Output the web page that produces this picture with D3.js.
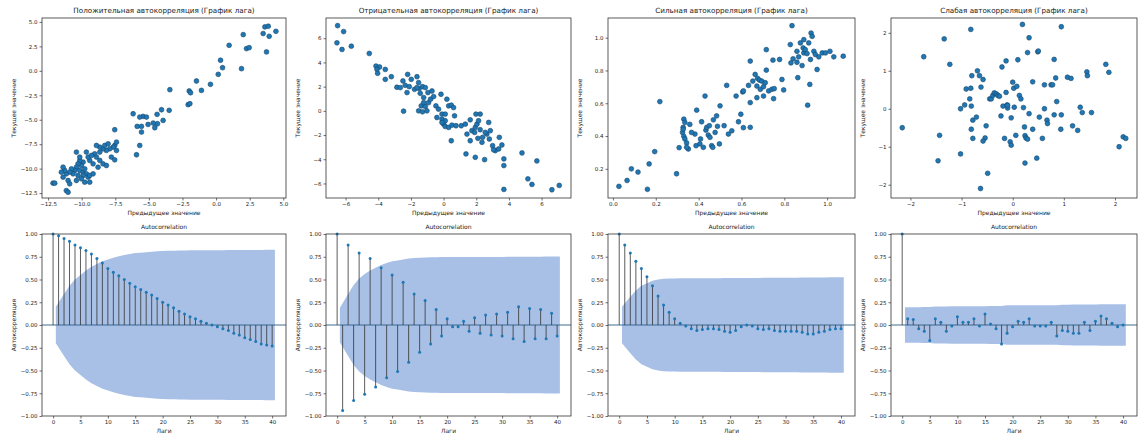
<!DOCTYPE html>
<html><head><meta charset="utf-8">
<script src="https://cdn.jsdelivr.net/npm/d3@7"></script>
<style>body{margin:0;background:#fff} svg text{font-family:"DejaVu Sans",sans-serif;fill:#222}</style>
</head><body><svg id="c" width="1139" height="437"></svg>
<script>
// ---------- DATA ----------
const scatterTitles = ["Положительная автокорреляция (График лага)","Отрицательная автокорреляция (График лага)","Сильная автокорреляция (График лага)","Слабая автокорреляция (График лага)"];
const scatterXLabel = "Предыдущее значение";
const scatterYLabel = "Текущее значение";
const acfTitle = "Autocorrelation";
const acfXLabel = "Лаги";
const acfYLabel = "Автокорреляция";

// Positive autocorrelation lag plot
const posX = [3.63,3.88,3.50,3.95,4.45,3.75,2.26,2.46,2.02,0.97,0.33,0.48,0.16,1.89,-0.42,-1.46,-1.09,-2.00,-1.90,-3.44,-2.08,-1.95,-3.49,-4.06,-3.94,-4.39,-4.36,-4.68,-4.56,-5.06,-5.43,-5.18,-5.68,-5.55,-5.87,-6.17,-5.55,-5.68,-5.92,-7.54,
 -7.54,-7.66,-7.91,-7.41,-7.79,-7.54,-8.16,-8.41,-8.65,-8.90,-8.65,-9.03,-8.90,-8.65,-8.41,-8.16,-8.78,-9.15,-9.40,-9.52,-9.27,-9.65,-9.89,-10.02,-10.14,-10.27,-10.39,-10.51,-10.14,-9.89,-9.77,-9.65,-9.89,-10.27,-10.64,-10.76,-10.89,-11.14,-11.26,-11.38,-11.51,-11.38,-11.01,-10.89,-10.39,-10.02,-9.40,-9.52,-9.77,-11.14,-11.01,-12.13,-12.00,-9.40,-9.15,-10.39,-10.14,-8.28,-8.03,-7.41];
const posY = [4.49,4.56,3.81,3.53,4.04,1.93,2.27,2.37,3.70,2.61,1.08,0.32,-0.36,0.22,-1.38,-1.04,-2.00,-2.06,-2.24,-1.93,-3.46,-3.36,-4.04,-3.98,-5.07,-4.45,-5.41,-5.34,-5.82,-5.48,-4.66,-4.73,-4.73,-5.68,-5.68,-4.39,-6.26,-7.63,-8.58,-6.02,
 -7.63,-7.80,-7.97,-8.14,-8.82,-9.10,-8.14,-7.97,-7.80,-7.63,-8.31,-8.48,-8.82,-9.16,-9.51,-9.68,-9.85,-9.51,-9.16,-8.82,-8.65,-8.31,-9.33,-9.68,-9.16,-9.51,-9.85,-10.19,-10.19,-10.36,-10.02,-10.53,-10.70,-10.70,-10.53,-10.02,-10.36,-10.53,-10.19,-9.85,-10.36,-10.87,-11.21,-11.55,-11.21,-11.04,-11.38,-10.87,-11.38,-12.24,-12.41,-11.48,-11.48,-10.70,-10.53,-8.31,-8.82,-7.63,-7.46,-7.29];

// Negative autocorrelation lag plot
const negX = [-6.49,-6.12,-6.53,-6.22,-5.65,-4.55,-4.14,-3.92,-4.08,-3.57,-4.04,-3.57,-3.20,-2.86,-2.49,-2.20,-2.35,-2.10,-1.98,-1.63,-1.53,-1.78,-1.49,-1.43,-1.29,-1.12,-0.96,-0.71,-1.22,-1.37,-1.53,-1.29,-1.12,-0.92,-0.80,-0.61,-0.47,-0.31,-0.16,0.20,0.31,0.47,0.61,0.67,-0.10,-0.10,0.00,0.10,0.31,0.51,0.76,1.08,1.33,1.63,0.47,1.43,1.63,1.73,1.94,2.04,2.14,2.24,1.98,1.90,2.10,2.39,2.76,2.65,2.80,3.00,3.16,3.41,3.57,3.69,3.69,1.37,1.94,2.51,4.80,5.71,5.16,5.41,3.69,6.63,7.08,-2.45,0.10,-0.41,0.10,2.24,2.55,2.86,3.06,3.37,-1.22,-1.02,-1.63,-2.65,-2.24,-0.10,2.35];
const negY = [7.04,6.55,5.62,5.07,5.34,4.74,3.70,3.62,3.42,3.42,3.10,2.60,2.82,1.95,2.47,3.01,2.11,2.00,2.60,2.82,2.33,1.78,1.84,1.45,2.00,1.92,1.51,1.64,1.10,0.41,0.00,-0.08,0.36,0.68,0.96,1.18,0.41,0.14,1.37,0.96,0.41,0.47,0.27,-0.41,-0.27,-0.68,-1.10,-1.29,-1.37,-1.18,-1.23,-1.23,-1.10,-0.74,-2.47,-1.92,-2.47,-1.64,-1.37,-1.10,-0.82,-0.27,-0.27,-1.78,-2.27,-2.19,-0.96,-1.92,-2.33,-2.88,-3.29,-2.19,-2.82,-3.97,-4.52,-3.56,-3.84,-4.03,-3.48,-4.14,-5.62,-6.08,-6.49,-6.52,-6.16,-0.03,-0.27,-0.55,-0.82,-1.56,-1.78,-1.64,-3.21,-3.15,0.68,0.00,1.92,1.92,1.51,-0.96,-2.60];

// Strong autocorrelation lag plot
const strongX = [0.028,0.066,0.086,0.117,0.161,0.169,0.195,0.219,0.297,0.309,0.328,0.331,0.336,0.325,0.331,0.336,0.344,0.352,0.359,0.383,0.388,0.391,0.414,0.406,0.422,0.430,0.434,0.438,0.445,0.450,0.453,0.461,0.466,0.469,0.484,0.488,0.497,0.500,0.519,0.531,0.555,0.575,0.586,0.597,0.606,0.609,0.633,0.641,0.641,0.641,0.653,0.664,0.672,0.675,0.684,0.688,0.695,0.703,0.703,0.711,0.716,0.716,0.727,0.742,0.747,0.750,0.753,0.778,0.789,0.797,0.828,0.831,0.841,0.859,0.863,0.867,0.875,0.883,0.888,0.891,0.898,0.909,0.914,0.919,0.922,0.925,0.930,0.938,0.945,0.953,0.961,0.977,0.992,1.013,1.031,1.075,0.836,0.906,0.891,0.859,0.672,0.609,0.539,0.344,0.367,0.328,0.409,0.477];
const strongY = [0.093,0.129,0.200,0.180,0.075,0.230,0.305,0.610,0.170,0.329,0.453,0.503,0.483,0.422,0.398,0.382,0.358,0.321,0.471,0.412,0.341,0.558,0.487,0.352,0.331,0.644,0.436,0.453,0.406,0.463,0.392,0.341,0.331,0.499,0.523,0.459,0.352,0.584,0.463,0.709,0.432,0.644,0.487,0.533,0.669,0.675,0.709,0.604,0.857,0.453,0.735,0.776,0.705,0.752,0.741,0.685,0.735,0.701,0.644,0.725,0.927,0.802,0.675,0.685,0.863,0.628,0.689,0.867,0.745,0.681,0.958,0.846,0.871,0.917,0.756,0.883,0.968,0.830,0.937,0.907,0.927,0.588,0.968,0.715,0.867,1.028,1.008,0.917,0.897,0.806,0.883,0.907,0.907,0.917,0.883,0.887,1.073,0.903,0.988,0.850,0.634,0.451,0.412,0.331,0.422,0.442,0.382,0.422];

// Weak autocorrelation lag plot
const weakX = [-2.16,-1.74,-1.43,-1.46,-1.34,-1.23,-1.02,-1.02,-0.94,-0.91,-0.82,-0.84,-0.81,-0.80,-0.78,-0.81,-0.78,-0.71,-0.69,-0.65,-0.62,-0.58,-0.82,-0.52,-0.54,-0.58,-0.49,-0.63,-0.45,-0.42,-0.39,-0.36,-0.32,-0.29,-0.26,-0.21,-0.23,-0.19,-0.16,-0.13,-0.13,-0.11,-0.10,-0.05,-0.03,-0.03,0.00,0.02,0.03,0.06,0.08,0.10,0.13,0.16,0.19,0.21,0.23,0.24,0.24,0.26,0.29,0.29,0.32,0.32,0.39,0.39,0.47,0.49,0.50,0.52,0.58,0.62,0.62,0.67,0.68,0.75,0.78,0.81,0.81,0.84,0.86,0.94,0.95,0.95,1.07,1.14,1.17,1.27,1.32,1.36,1.45,1.46,1.54,1.82,1.88,2.08,2.16,2.21,-0.10];
const weakY = [-0.50,1.37,-0.70,-1.37,1.84,1.17,-1.19,0.00,0.10,0.52,0.54,0.26,0.07,0.87,-0.78,-0.54,-0.30,-0.22,1.00,0.87,0.57,0.77,2.09,-0.45,-0.77,-0.85,-1.70,-2.10,0.26,0.26,0.35,0.42,0.39,0.35,0.33,1.10,-0.19,0.07,-0.78,1.26,0.43,0.10,0.02,-0.87,-0.96,-0.24,0.70,0.54,0.04,-0.70,0.59,1.29,0.35,0.26,2.22,0.03,-0.48,-1.43,-0.71,-0.77,1.48,-0.80,-0.13,1.87,-0.54,0.71,-1.30,1.50,1.52,-0.22,-0.78,0.00,0.63,-0.30,-0.39,0.63,0.63,1.30,-0.16,0.81,0.19,-0.54,-0.16,2.16,0.83,0.80,-0.45,-0.57,0.04,-0.10,0.97,0.87,-0.10,1.17,0.96,-1.00,-0.74,-0.78,0.09];

// Scatter axis ranges and ticks
const posXDomain = [-12.95, 5.2],  posYDomain = [-13.0, 5.4],  posTicks = [-12.5,-10,-7.5,-5,-2.5,0,2.5,5];
const negXDomain = [-7.2, 7.8],    negYDomain = [-7.2, 7.67],  negTicks = [-6,-4,-2,0,2,4,6];
const strongXDomain = [-0.023, 1.13], strongYDomain = [0.022, 1.12];
const strongXTicks = [0,0.2,0.4,0.6,0.8,1.0], strongYTicks = [0.2,0.4,0.6,0.8,1.0];
const weakXDomain = [-2.38, 2.43], weakYDomain = [-2.35, 2.39], weakTicks = [-2,-1,0,1,2];

// ACF values, lags 0..40
const lags = d3.range(0, 41);
const acfPos = [1.00,0.98,0.95,0.92,0.88,0.85,0.82,0.78,0.73,0.68,0.62,0.58,0.54,0.50,0.46,0.42,0.39,0.36,0.33,0.29,0.25,0.22,0.19,0.15,0.12,0.09,0.07,0.04,0.02,0.00,-0.02,-0.04,-0.06,-0.09,-0.11,-0.14,-0.16,-0.18,-0.21,-0.22,-0.23];
const acfNeg = [1.00,-0.94,0.88,-0.83,0.79,-0.76,0.73,-0.68,0.63,-0.58,0.55,-0.51,0.47,-0.41,0.34,-0.30,0.27,-0.21,0.17,-0.12,0.07,-0.02,-0.02,0.04,-0.07,0.08,-0.09,0.11,-0.11,0.12,-0.12,0.14,-0.15,0.20,-0.18,0.18,-0.15,0.17,-0.15,0.13,-0.12];
const acfStrong = [1.00,0.88,0.79,0.70,0.62,0.53,0.43,0.32,0.22,0.14,0.07,0.02,-0.01,-0.04,-0.06,-0.05,-0.04,-0.04,-0.05,-0.07,-0.08,-0.06,-0.02,0.00,-0.01,-0.04,-0.05,-0.04,-0.06,-0.07,-0.07,-0.07,-0.07,-0.08,-0.10,-0.10,-0.08,-0.07,-0.05,-0.04,-0.04];
const acfWeak = [1.00,0.07,0.06,-0.04,-0.07,-0.17,0.07,0.03,-0.07,-0.01,0.09,0.03,0.03,0.07,-0.01,0.12,0.01,-0.04,-0.21,-0.09,-0.02,0.04,0.03,0.07,-0.01,-0.01,-0.01,0.03,-0.12,-0.06,-0.07,-0.09,-0.09,0.03,-0.06,0.04,0.10,0.07,0.02,-0.02,0.00];

// Confidence band half-widths, lags 1..40
const bandPos = [0.20,0.34,0.43,0.50,0.55,0.60,0.64,0.67,0.70,0.72,0.74,0.755,0.77,0.78,0.79,0.795,0.80,0.805,0.81,0.812,0.815,0.817,0.819,0.82,0.821,0.821,0.822,0.822,0.822,0.822,0.822,0.823,0.823,0.823,0.823,0.824,0.824,0.825,0.826,0.827];
const bandNeg = [0.19,0.34,0.44,0.51,0.56,0.60,0.63,0.66,0.68,0.70,0.71,0.72,0.73,0.735,0.74,0.742,0.744,0.745,0.746,0.746,0.746,0.746,0.746,0.746,0.747,0.747,0.747,0.748,0.748,0.748,0.749,0.749,0.749,0.750,0.750,0.751,0.751,0.752,0.752,0.752];
const bandStrong = [0.20,0.31,0.38,0.43,0.46,0.485,0.50,0.507,0.51,0.512,0.513,0.513,0.513,0.514,0.514,0.515,0.515,0.515,0.516,0.516,0.517,0.517,0.517,0.517,0.517,0.518,0.518,0.518,0.519,0.519,0.520,0.520,0.521,0.521,0.522,0.523,0.523,0.524,0.524,0.524];
const bandWeak = [0.195,0.196,0.196,0.197,0.197,0.203,0.204,0.204,0.205,0.205,0.205,0.206,0.206,0.206,0.207,0.208,0.208,0.208,0.216,0.217,0.217,0.217,0.217,0.218,0.218,0.218,0.218,0.218,0.222,0.223,0.224,0.225,0.226,0.226,0.226,0.227,0.228,0.228,0.228,0.228];
const acfXTicks = [0,5,10,15,20,25,30,35,40];
const acfYTicks = [-1.0,-0.75,-0.5,-0.25,0,0.25,0.5,0.75,1.0];
const acfXDomain = [-2.025, 42.525], acfYDomain = [-1, 1];

// ---------- DRAW ----------
const svg = d3.select("#c");
svg.append("rect").attr("width",1139).attr("height",437).attr("fill","#fff");

const lefts = [42, 326, 608, 891], rights = [286, 571, 855, 1137];
const topRow = {top: 18, bottom: 198}, botRow = {top: 234, bottom: 416};
const mfmt = s => s.replace("-", "\u2212");
const C0 = "#1f77b4";

function frame(i, row, xs, ys, xTicks, yTicks, xf, yf, title, xl, yl, titleSize) {
  const g = svg.append("g");
  const x0 = lefts[i], x1 = rights[i];
  const xAxis = d3.axisBottom(xs).tickValues(xTicks).tickSize(2.5).tickPadding(2).tickFormat(d => mfmt(xf(d)));
  const yAxis = d3.axisLeft(ys).tickValues(yTicks).tickSize(2.5).tickPadding(2).tickFormat(d => mfmt(yf(d)));
  const gx = g.append("g").attr("transform", `translate(0,${row.bottom})`).call(xAxis);
  const gy = g.append("g").attr("transform", `translate(${x0},0)`).call(yAxis);
  [gx, gy].forEach(a => {
    a.select(".domain").remove();
    a.selectAll("line").attr("stroke", "#333").attr("stroke-width", 0.7);
    a.selectAll("text").style("font-family", "DejaVu Sans").style("font-size", "5.5px").attr("fill", "#222");
  });
  g.append("text").attr("x", (x0 + x1) / 2).attr("y", row.top - 5).attr("text-anchor", "middle")
    .style("font-size", titleSize + "px").text(title);
  g.append("text").attr("x", (x0 + x1) / 2).attr("y", row.bottom + 17).attr("text-anchor", "middle")
    .style("font-size", "6px").text(xl);
  g.append("text").attr("transform", `translate(${x0 - 26},${(row.top + row.bottom) / 2}) rotate(-90)`)
    .attr("text-anchor", "middle").style("font-size", "6px").text(yl);
  return g;
}
function border(i, row) {
  svg.append("rect").attr("x", lefts[i]).attr("y", row.top).attr("width", rights[i] - lefts[i])
    .attr("height", row.bottom - row.top).attr("fill", "none").attr("stroke", "#333").attr("stroke-width", 0.8);
}

const scatterSets = [
  {xd: posX, yd: posY, xdom: posXDomain, ydom: posYDomain, xt: posTicks, yt: posTicks, xf: d3.format(".1f"), yf: d3.format(".1f")},
  {xd: negX, yd: negY, xdom: negXDomain, ydom: negYDomain, xt: negTicks, yt: negTicks, xf: d3.format("d"), yf: d3.format("d")},
  {xd: strongX, yd: strongY, xdom: strongXDomain, ydom: strongYDomain, xt: strongXTicks, yt: strongYTicks, xf: d3.format(".1f"), yf: d3.format(".1f")},
  {xd: weakX, yd: weakY, xdom: weakXDomain, ydom: weakYDomain, xt: weakTicks, yt: weakTicks, xf: d3.format("d"), yf: d3.format("d")}
];
scatterSets.forEach((s, i) => {
  const xs = d3.scaleLinear().domain(s.xdom).range([lefts[i], rights[i]]);
  const ys = d3.scaleLinear().domain(s.ydom).range([topRow.bottom, topRow.top]);
  const g = frame(i, topRow, xs, ys, s.xt, s.yt, s.xf, s.yf, scatterTitles[i], scatterXLabel, scatterYLabel, 7.2);
  g.append("g").selectAll("circle").data(d3.zip(s.xd, s.yd)).join("circle")
    .attr("cx", d => xs(d[0])).attr("cy", d => ys(d[1])).attr("r", 2.4)
    .attr("fill", C0).attr("stroke", "#17466b").attr("stroke-width", 0.6);
  border(i, topRow);
});

const acfSets = [[acfPos, bandPos], [acfNeg, bandNeg], [acfStrong, bandStrong], [acfWeak, bandWeak]];
acfSets.forEach(([vals, band], i) => {
  const xs = d3.scaleLinear().domain(acfXDomain).range([lefts[i], rights[i]]);
  const ys = d3.scaleLinear().domain(acfYDomain).range([botRow.bottom, botRow.top]);
  const g = frame(i, botRow, xs, ys, acfXTicks, acfYTicks, d3.format("d"), d3.format(".2f"), acfTitle, acfXLabel, acfYLabel, 6);
  const bl = lags.slice(1).map((l, k) => k === 0 ? l - 0.5 : (k === 39 ? l + 0.5 : l));
  const area = d3.area().x((d, k) => xs(bl[k])).y0(d => ys(-d)).y1(d => ys(d));
  g.append("path").datum(band).attr("d", area).attr("fill", "#a8c0e6");
  g.append("line").attr("x1", lefts[i]).attr("x2", rights[i]).attr("y1", ys(0)).attr("y2", ys(0))
    .attr("stroke", "#2b5d88").attr("stroke-width", 0.9);
  g.append("g").selectAll("line").data(vals).join("line")
    .attr("x1", (d, k) => xs(lags[k])).attr("x2", (d, k) => xs(lags[k]))
    .attr("y1", ys(0)).attr("y2", d => ys(d)).attr("stroke", "#333").attr("stroke-width", 0.8);
  g.append("g").selectAll("circle").data(vals).join("circle")
    .attr("cx", (d, k) => xs(lags[k])).attr("cy", d => ys(d)).attr("r", 1.5).attr("fill", C0);
  border(i, botRow);
});
</script></body></html>
